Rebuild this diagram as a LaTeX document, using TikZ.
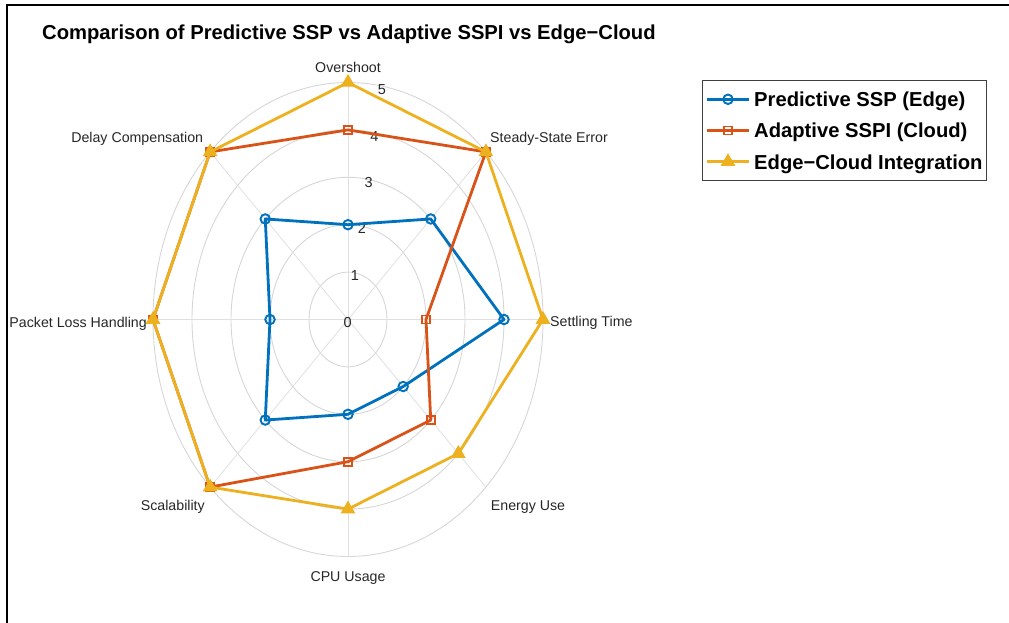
\documentclass[tikz,border=0pt]{standalone}
\usepackage{fontspec}
\setmainfont{Liberation Sans}
\usetikzlibrary{shapes.geometric}
\definecolor{cblue}{rgb}{0,0.447,0.741}
\definecolor{corange}{rgb}{0.85,0.325,0.098}
\definecolor{cyellow}{rgb}{0.929,0.694,0.125}
\definecolor{txt}{rgb}{0.15,0.15,0.15}
\definecolor{gridc}{rgb}{0.84,0.84,0.84}
\begin{document}
\begin{tikzpicture}[x=1pt,y=-1pt,
  frame/.style={line width=2pt, black},
  ring/.style={draw=gridc, line width=0.9pt},
  spoke/.style={draw=gridc!75!white, line width=0.8pt},
  axlab/.style={font=\fontsize{14.2}{16}\selectfont, text=txt, inner sep=0pt},
  ticklab/.style={font=\fontsize{14.5}{16}\selectfont, text=txt, inner sep=0pt},
  titlestyle/.style={font=\bfseries\fontsize{20.2}{24}\selectfont, text=black, inner sep=0pt},
  legtext/.style={font=\bfseries\fontsize{20.2}{24}\selectfont, text=black, inner sep=0pt},
  legbox/.style={draw=black!75, line width=0.9pt, fill=white},
  dataline/.style={line width=2.8pt, line join=round, line cap=round},
  blueline/.style={dataline, draw=cblue},
  orangeline/.style={dataline, draw=corange},
  yellowline/.style={dataline, draw=cyellow},
  bmark/.style={circle, draw=cblue, line width=1.9pt, minimum size=9.5pt, inner sep=0pt},
  omark/.style={rectangle, draw=corange, line width=1.6pt, minimum size=8pt, inner sep=0pt},
  ymark/.style={regular polygon, regular polygon sides=3, fill=cyellow, draw=cyellow, line width=1pt, minimum size=15pt, inner sep=0pt}
]
\useasboundingbox (0,0) rectangle (1009,623);
\draw[frame] (6.5,623) -- (6.5,5) -- (1009,5);

\node[titlestyle, anchor=base west] (title) at (42,40) {Comparison of Predictive SSP vs Adaptive SSPI vs Edge−Cloud};

\begin{scope}[shift={(348,319.5)}, x=39pt, y=47.4pt]
  \coordinate (c0) at (0,0);
  \foreach \k in {1,...,5} {
    \draw[ring] (c0) ellipse [x radius=\k*39pt, y radius=\k*47.4pt];
  }
  \foreach \a [count=\i] in {90,45,0,-45,-90,-135,180,135} {
    \coordinate (s\i) at (\a:5);
    \draw[spoke] (c0) -- (s\i);
  }
  \foreach \a/\v [count=\i] in {90/2,45/3,0/4,-45/2,-90/2,-135/3,180/2,135/3}
    \coordinate (b\i) at (\a:\v);
  \foreach \a/\v [count=\i] in {90/4,45/5,0/2,-45/3,-90/3,-135/5,180/5,135/5}
    \coordinate (o\i) at (\a:\v);
  \foreach \a/\v [count=\i] in {90/5,45/5,0/5,-45/4,-90/4,-135/5,180/5,135/5}
    \coordinate (y\i) at (\a:\v);
\end{scope}

\foreach \t/\x/\y [count=\i] in {0/347.7/322.5,1/355/276,2/362/228.7,3/368.7/182.2,4/374.5/136.2,5/382/89.7}
  \node[ticklab] (tk\i) at (\x,\y) {\t};

\draw[blueline] (b1) -- (b2) -- (b3) -- (b4) -- (b5) -- (b6) -- (b7) -- (b8) -- cycle;
\foreach \i in {1,...,8} \node[bmark] (bm\i) at (b\i) {};
\draw[orangeline] (o1) -- (o2) -- (o3) -- (o4) -- (o5) -- (o6) -- (o7) -- (o8) -- cycle;
\foreach \i in {1,...,8} \node[omark] (om\i) at (o\i) {};
\draw[yellowline] (y1) -- (y2) -- (y3) -- (y4) -- (y5) -- (y6) -- (y7) -- (y8) -- cycle;
\foreach \i in {1,...,8} \node[ymark] (ym\i) at (y\i) {};

\node[axlab, anchor=base] (lOver) at (348,73) {Overshoot};
\node[axlab, anchor=base west] (lSteady) at (490,142.5) {Steady-State Error};
\node[axlab, anchor=base west] (lSettle) at (550,326.5) {Settling Time};
\node[axlab, anchor=base west] (lEnergy) at (490.7,510.5) {Energy Use};
\node[axlab, anchor=base] (lCPU) at (348,581.5) {CPU Usage};
\node[axlab, anchor=base east] (lScal) at (205,510.5) {Scalability};
\node[axlab, anchor=base east] (lPacket) at (147,327.5) {Packet Loss Handling};
\node[axlab, anchor=base east] (lDelay) at (203.3,142.5) {Delay Compensation};

\node[legbox, minimum width=284pt, minimum height=100pt, anchor=north west, inner sep=0pt] (legend) at (702,80) {};
\coordinate (la1) at (707,99.3); \coordinate (lb1) at (749,99.3);
\coordinate (la2) at (707,130.5); \coordinate (lb2) at (749,130.5);
\coordinate (la3) at (707,161.7); \coordinate (lb3) at (749,161.7);
\draw[blueline, line cap=butt] (la1) -- (lb1);
\node[bmark] (lm1) at (728,99.3) {};
\draw[orangeline, line cap=butt] (la2) -- (lb2);
\node[omark] (lm2) at (728,130.5) {};
\draw[yellowline, line cap=butt] (la3) -- (lb3);
\node[ymark] (lm3) at (728,161.7) {};
\node[legtext, anchor=base west] (lt1) at (754,106.7) {Predictive SSP (Edge)};
\node[legtext, anchor=base west] (lt2) at (754,137.9) {Adaptive SSPI (Cloud)};
\node[legtext, anchor=base west] (lt3) at (754,169.1) {Edge−Cloud Integration};
\end{tikzpicture}
\end{document}
